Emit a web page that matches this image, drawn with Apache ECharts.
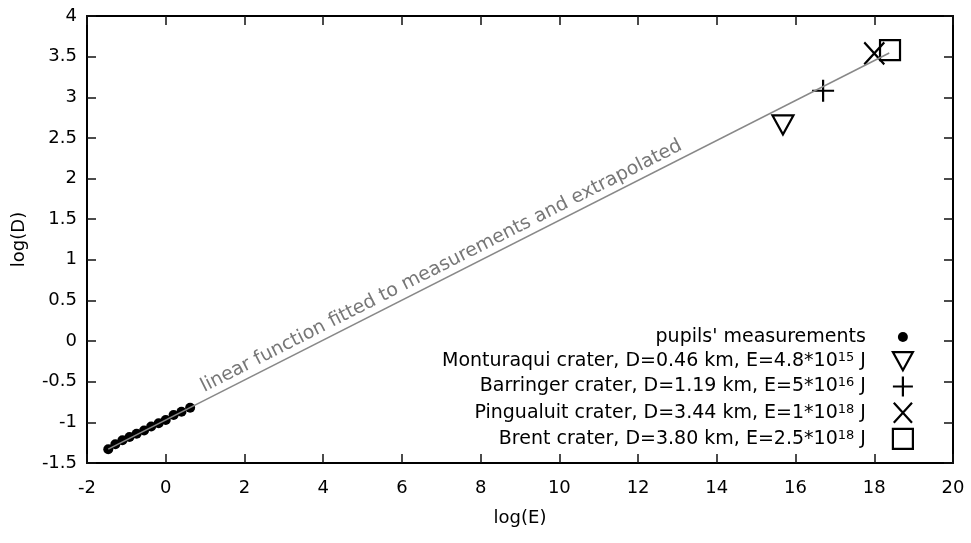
<!DOCTYPE html>
<html><head><meta charset="utf-8">
<script src="https://cdn.jsdelivr.net/npm/echarts@6/dist/echarts.min.js"></script>
<style>html,body{margin:0;padding:0;background:#fff}#c{width:971px;height:543px}</style>
</head><body><div id="c"></div>
<script>
// ---- data ----
const pupilsLogE = [-1.46, -1.28, -1.10, -0.92, -0.74, -0.55, -0.37, -0.18, 0.00, 0.20, 0.40, 0.62];
const pupilsLogD = [-1.33, -1.27, -1.22, -1.18, -1.14, -1.10, -1.05, -1.01, -0.97, -0.91, -0.87, -0.82];

const craterKeys  = ['Monturaqui', 'Barringer', 'Pingualuit', 'Brent'];
const craterLogE  = [15.68, 16.70, 18.00, 18.40];
const craterLogD  = [2.66, 3.08, 3.54, 3.58];
const craterLabelMain = ['Monturaqui crater, D=0.46 km, E=4.8*10', 'Barringer crater, D=1.19 km, E=5*10', 'Pingualuit crater, D=3.44 km, E=1*10', 'Brent crater, D=3.80 km, E=2.5*10'];
const craterLabelExp  = ['15', '16', '18', '18'];
const craterLabelUnit = ' J';

const fitLineLogE = [-1.46, 18.38];
const fitLineLogD = [-1.33, 3.545];
const fitLabel = 'linear function fitted to measurements and extrapolated';
const pupilsLabel = "pupils' measurements";

const xMin = -2, xMax = 20, xStep = 2;
const yMin = -1.5, yMax = 4, yStep = 0.5;
const xTitle = 'log(E)', yTitle = 'log(D)';

// ---- styles ----
const FONT = 'DejaVu Sans';
const FS = 18;
const symTri   = 'path://M0,0 L22,0 L11,20 Z';
const symPlus  = 'path://M11,0 L11,22 M0,11 L22,11';
const symCross = 'path://M0,0 L20,22 M20,0 L0,22';
const symSq    = 'path://M0,0 L20,0 L20,20 L0,20 Z';
const craterSymbols = [symTri, symPlus, symCross, symSq];
const craterSizes = [[21,19],[22,22],[20,22],[20,20]];
const dotIcon = 'path://M0,0 M20,20 M5,10 A5,5,0,1,1,15,10 A5,5,0,1,1,5,10 Z';
const hollow = {color:'transparent', borderColor:'#000', borderWidth:2.2, opacity:1};

const series = [{
  name: pupilsLabel, type:'scatter', symbol:'circle', symbolSize:10,
  itemStyle:{color:'#000', opacity:1},
  emphasis:{disabled:true},
  data: pupilsLogE.map((x,i)=>[x, pupilsLogD[i]]),
  markLine:{
    silent:true, symbol:['none','none'], animation:false,
    lineStyle:{color:'#888', width:1.5, type:'solid'},
    emphasis:{disabled:true},
    label:{show:true, position:'insideMiddleTop', formatter:fitLabel, color:'#777',
           fontFamily:FONT, fontSize:19, distance:3, padding:[0,116,0,0]},
    data:[[{coord:[fitLineLogE[0], fitLineLogD[0]]},{coord:[fitLineLogE[1], fitLineLogD[1]]}]]
  },
  z:3
}];
craterKeys.forEach((k,i)=>{
  series.push({
    name:k, type:'scatter', symbol:craterSymbols[i], symbolSize:craterSizes[i],
    itemStyle:hollow, emphasis:{disabled:true},
    data:[[craterLogE[i], craterLogD[i]]], z:4
  });
});

const legendData = [{name:pupilsLabel, icon:dotIcon, itemStyle:{color:'#000', borderWidth:0, opacity:1}}]
  .concat(craterKeys.map((k,i)=>({name:k, icon:craterSymbols[i], itemStyle:hollow})));

const axisCommon = {
  axisLine:{show:true, onZero:false, lineStyle:{color:'#000', width:2}},
  axisTick:{show:true, inside:true, length:9, lineStyle:{color:'#111', width:1.5}},
  splitLine:{show:false}
};

const chart = echarts.init(document.getElementById('c'), null, {renderer:'canvas'});
chart.setOption({
  animation:false,
  backgroundColor:'#fff',
  grid:{left:87, right:18, top:16, bottom:80, containLabel:false},
  xAxis:[
    Object.assign({type:'value', min:xMin, max:xMax, interval:xStep, position:'bottom',
      name:xTitle, nameLocation:'middle', nameGap:46,
      nameTextStyle:{fontFamily:FONT, fontSize:FS, color:'#000'},
      axisLabel:{fontFamily:FONT, fontSize:FS, color:'#000', margin:16}}, axisCommon),
    Object.assign({type:'value', min:xMin, max:xMax, interval:xStep, position:'top',
      axisLabel:{show:false}}, axisCommon)
  ],
  yAxis:[
    Object.assign({type:'value', min:yMin, max:yMax, interval:yStep, position:'left',
      name:yTitle, nameLocation:'middle', nameGap:59, nameRotate:90,
      nameTextStyle:{fontFamily:FONT, fontSize:FS, color:'#000'},
      axisLabel:{fontFamily:FONT, fontSize:FS, color:'#000', margin:10}}, axisCommon),
    Object.assign({type:'value', min:yMin, max:yMax, interval:yStep, position:'right',
      axisLabel:{show:false}}, axisCommon)
  ],
  legend:{
    orient:'vertical', align:'right', right:52, top:322,
    itemWidth:20, itemHeight:20, itemGap:4, selectedMode:false,
    textStyle:{fontFamily:FONT, fontSize:19, color:'#000', lineHeight:20, padding:[0,22,0,0],
      rich:{
        b:{fontFamily:FONT, fontSize:19, color:'#000', lineHeight:20},
        sup:{fontFamily:FONT, fontSize:13, color:'#000', lineHeight:13, verticalAlign:'top'}
      }},
    formatter:function(name){
      const i = craterKeys.indexOf(name);
      if (i < 0) return '{b|' + name + '}';
      return '{b|' + craterLabelMain[i] + '}{sup|' + craterLabelExp[i] + '}{b|' + craterLabelUnit + '}';
    },
    data:legendData
  },
  series:series
});
</script>
</body></html>
